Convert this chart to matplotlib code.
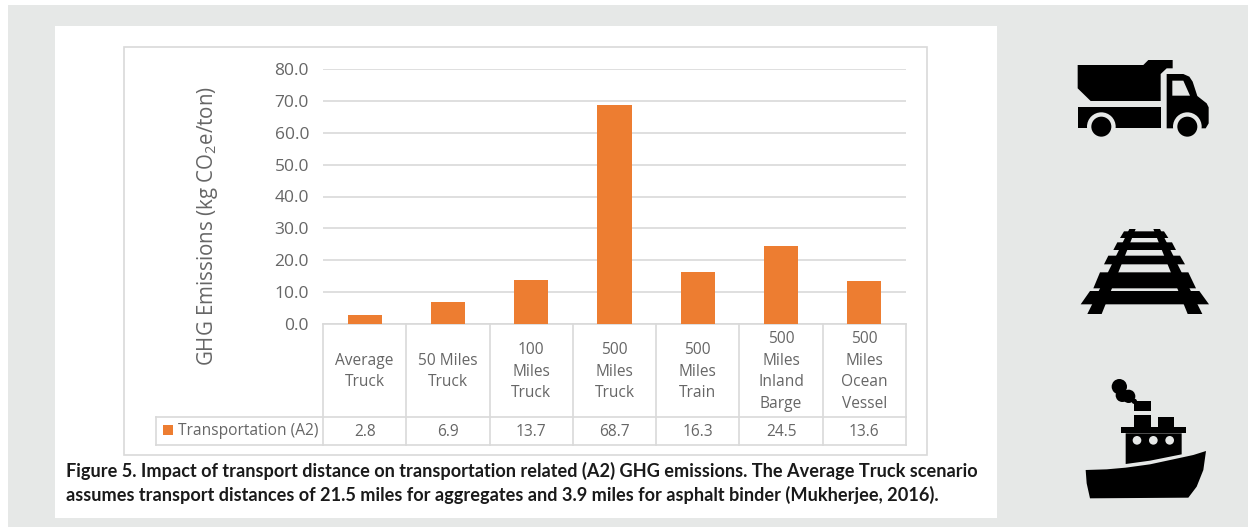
import matplotlib
matplotlib.use('Agg')
import matplotlib.pyplot as plt
from matplotlib.patches import Rectangle, Polygon, Circle

plt.rcParams['font.family'] = ['Open Sans', 'DejaVu Sans']
plt.rcParams['mathtext.default'] = 'regular'

categories = ['Average\nTruck', '50 Miles\nTruck', '100\nMiles\nTruck', '500\nMiles\nTruck',
              '500\nMiles\nTrain', '500\nMiles\nInland\nBarge', '500\nMiles\nOcean\nVessel']
values = [2.8, 6.9, 13.7, 68.7, 16.3, 24.5, 13.6]
series_name = 'Transportation (A2)'
yticks = [0, 10, 20, 30, 40, 50, 60, 70, 80]
caption = ['Figure 5. Impact of transport distance on transportation related (A2) GHG emissions. The Average Truck scenario',
           'assumes transport distances of 21.5 miles for aggregates and 3.9 miles for asphalt binder (Mukherjee, 2016).']

W, H = 1248, 527
GREY = '#E6E8E7'
LINE = '#D9D9D9'
TXT = '#666666'
ORANGE = '#ED7D31'

fig = plt.figure(figsize=(W / 100, H / 100), dpi=100, facecolor='white')

# page background, pixel coords
bg = fig.add_axes([0, 0, 1, 1])
bg.set_xlim(0, W)
bg.set_ylim(H, 0)
bg.axis('off')
bg.add_patch(Rectangle((8, 5), W - 8, H - 5, fc=GREY, ec='none'))
bg.add_patch(Rectangle((55, 26), 942, 492, fc='white', ec='none'))
bg.add_patch(Rectangle((124, 47), 803, 408, fc='white', ec=LINE, lw=1.2))

# plot area
left, right, top, bottom = 323, 906, 69, 324
ax = fig.add_axes([left / W, 1 - bottom / H, (right - left) / W, (bottom - top) / H])
ax.patch.set_alpha(0)
ax.bar(range(len(values)), values, width=0.41, color=ORANGE, zorder=3)
ax.set_xlim(-0.5, len(values) - 0.5)
ax.set_ylim(0, 80)
ax.set_yticks(yticks)
ax.set_yticklabels(['%.1f' % t for t in yticks], fontsize=12.5, color=TXT)
ax.set_xticks([])
ax.tick_params(axis='y', length=0, pad=10)
ax.grid(axis='y', color=LINE, lw=1.2, zorder=0)
for s in ax.spines.values():
    s.set_visible(False)

bg.text(207, 226, 'GHG Emissions (kg CO$_2$e/ton)', rotation=90, fontsize=14.8, color=TXT,
        ha='center', va='center')

# data table under the bars
cell = (right - left) / len(values)
row1, row2 = 417, 445
bg.plot([left, right], [bottom, bottom], color=LINE, lw=1.2)
bg.plot([156, right], [row1, row1], color=LINE, lw=1.2)
bg.plot([156, right], [row2, row2], color=LINE, lw=1.2)
bg.plot([156, 156], [row1, row2], color=LINE, lw=1.2)
for i in range(len(values) + 1):
    bg.plot([left + i * cell] * 2, [bottom, row2], color=LINE, lw=1.2)
for i, (c, v) in enumerate(zip(categories, values)):
    xc = left + (i + 0.5) * cell
    bg.text(xc, (bottom + row1) / 2 + 1, c, ha='center', va='center', fontsize=11.2,
            color=TXT, linespacing=1.45)
    bg.text(xc, (row1 + row2) / 2 + 0.5, '%.1f' % v, ha='center', va='center', fontsize=11.2, color=TXT)
bg.add_patch(Rectangle((163, 425), 10, 10, fc=ORANGE, ec='none'))
bg.text(178, 431, series_name, ha='left', va='center', fontsize=11.2, color=TXT)

# caption
bg.text(66, 471, caption[0], ha='left', va='center', fontsize=13.1, fontweight='bold',
        family=['Lato', 'DejaVu Sans'], color='#1a1a1a')
bg.text(66, 495, caption[1], ha='left', va='center', fontsize=13.1, fontweight='bold',
        family=['Lato', 'DejaVu Sans'], color='#1a1a1a')


# icons, traced in crop coords (3x zoom)
def pts(p, oy):
    return [(1040 + x / 3, oy + y / 3) for x, y in p]


def poly(p, oy, c='black'):
    bg.add_patch(Polygon(pts(p, oy), closed=True, fc=c, ec='none'))


def circ(x, y, r, oy, c='black'):
    bg.add_patch(Circle((1040 + x / 3, oy + y / 3), r / 3, fc=c, ec='none'))


# truck
poly([(113, 75), (310, 75), (325, 60), (398, 60), (398, 85), (380, 85), (362, 102), (362, 183),
      (152, 183), (113, 145)], 40)
poly([(113, 202), (362, 202), (362, 265), (113, 265)], 40)
poly([(380, 102), (430, 102), (448, 110), (458, 125), (472, 168), (500, 190), (506, 202), (506, 250),
      (497, 265), (380, 265)], 40)
poly([(397, 122), (430, 122), (450, 167), (397, 167)], 40, GREY)
for x in (184, 442):
    circ(x, 260, 43, 40, GREY)
    circ(x, 260, 30, 40)

# rail track
poly([(268, 567), (287, 567), (185, 822), (142, 822)], 40)
poly([(340, 567), (360, 567), (487, 822), (443, 822)], 40)
for ya, yb, xa, xb, xc, xd in [(574, 594, 252, 372, 240, 385),
                               (607, 630, 232, 396, 220, 408),
                               (647, 673, 205, 420, 192, 435),
                               (697, 745, 180, 445, 160, 468),
                               (753, 793, 150, 478, 122, 507)]:
    poly([(xa, ya), (xb, ya), (xd, yb), (xc, yb)], 40)

# ship
hull = [(137, 570), (200, 568), (257, 563), (330, 553), (400, 538), (460, 525), (498, 513),
        (490, 570), (470, 620), (445, 653), (150, 655), (140, 610)]
poly(hull, 280)
poly([(257, 460), (425, 460), (425, 523), (330, 542), (257, 552)], 280)
poly([(243, 442), (438, 442), (438, 460), (243, 460)], 280)
poly([(283, 405), (332, 405), (332, 442), (283, 442)], 280)
poly([(355, 410), (403, 410), (403, 442), (355, 442)], 280)
poly([(283, 362), (332, 362), (332, 392), (283, 392)], 280)
for x in (291, 340, 389):
    circ(x, 481, 13, 280, GREY)
for x, y, r in [(238, 320, 23), (247, 346, 20), (266, 349, 20), (283, 364, 8)]:
    circ(x, y, r, 280)

fig.savefig('out.png', dpi=100)
